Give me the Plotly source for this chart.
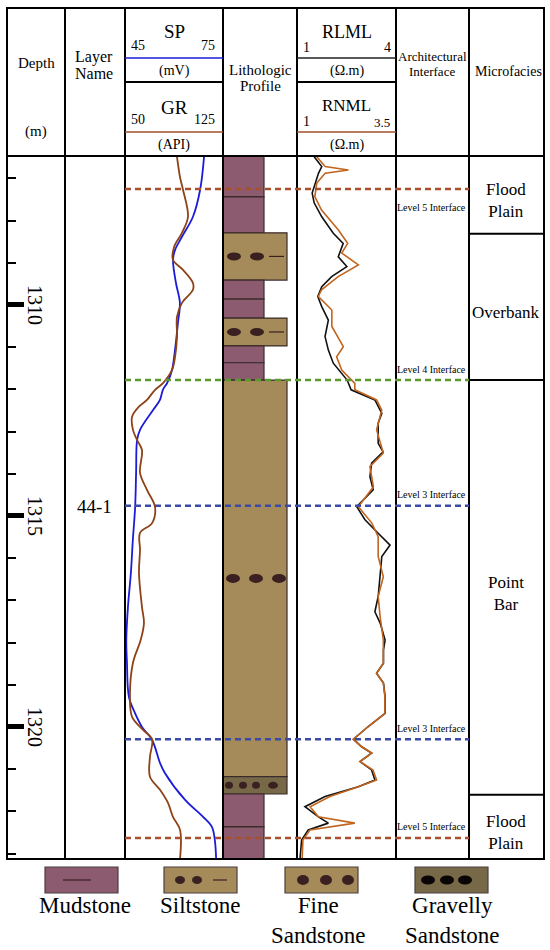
import plotly.graph_objects as go

W, H = 550, 950

# ---------------- data ----------------
DEPTH_TOP = 1306.47
DEPTH_BOT = 1323.13
depth_labels = [1310, 1315, 1320]
depth_minor = list(range(1307, 1324))

sp_depth = [1306.49, 1307.27, 1307.91, 1308.39, 1308.70, 1308.93, 1309.48, 1309.95, 1310.43, 1311.07,
            1311.54, 1311.85, 1312.01, 1312.25, 1312.49, 1312.96, 1313.20, 1313.98, 1314.79, 1315.57,
            1316.35, 1317.16, 1317.94, 1318.48, 1319.29, 1319.68, 1320.00, 1320.31, 1320.85, 1321.09,
            1321.73, 1322.13, 1322.37, 1322.68, 1323.13]
sp_mv = [69.2, 68.0, 65.8, 62.4, 60.3, 59.7, 60.6, 61.8, 61.2, 60.3,
         59.4, 57.9, 56.6, 55.7, 53.6, 49.6, 48.7, 48.4, 48.1, 47.4,
         46.8, 45.9, 45.4, 45.6, 46.2, 48.1, 50.2, 53.3, 55.7, 57.2,
         63.4, 68.9, 71.6, 72.5, 72.9]

gr_depth = [1306.49, 1306.97, 1307.27, 1307.91, 1308.29, 1308.63, 1308.93, 1309.17, 1309.48, 1309.64,
            1309.95, 1310.28, 1310.76, 1311.23, 1311.54, 1311.85, 1312.01, 1312.25, 1312.40, 1312.65,
            1312.96, 1313.20, 1313.44, 1313.98, 1314.38, 1314.79, 1315.17, 1315.40, 1315.81, 1316.35,
            1317.16, 1317.54, 1317.94, 1318.48, 1319.29, 1319.76, 1320.07, 1320.29, 1320.71, 1321.18,
            1321.49, 1321.80, 1322.13, 1322.44, 1323.13]
gr_api = [89.8, 92.1, 94.4, 98.2, 93.6, 87.5, 86.7, 94.4, 102.0, 102.0,
          93.6, 89.8, 89.8, 88.3, 86.0, 79.1, 73.0, 66.8, 61.0, 55.4,
          56.1, 59.2, 63.0, 61.5, 66.8, 73.0, 70.7, 61.5, 61.5, 60.7,
          63.0, 64.5, 62.0, 56.1, 53.8, 55.4, 63.8, 70.7, 69.1, 69.1,
          76.8, 82.9, 86.7, 92.1, 92.1]

rlml_depth = [1306.49, 1306.72, 1306.88, 1307.11, 1307.35, 1307.58, 1307.91, 1308.30, 1308.54, 1308.86,
              1309.09, 1309.33, 1309.57, 1309.80, 1310.04, 1310.36, 1310.75, 1311.07, 1311.38, 1311.78,
              1312.01, 1312.25, 1312.57, 1312.80, 1313.28, 1313.48, 1313.75, 1314.07, 1314.38, 1314.78,
              1315.09, 1315.41, 1315.69, 1315.96, 1316.44, 1316.91, 1317.27, 1317.54, 1317.94, 1318.18,
              1318.49, 1318.73, 1318.96, 1319.28, 1319.68, 1319.99, 1320.29, 1320.47, 1320.62, 1320.82,
              1321.02, 1321.26, 1321.42, 1321.65, 1321.89, 1322.13, 1322.28, 1322.44, 1322.68, 1323.13]
rlml_ohmm = [1.52, 1.75, 1.65, 1.55, 1.46, 1.52, 1.75, 2.10, 2.40, 2.25,
             2.51, 2.05, 1.75, 1.63, 1.75, 1.95, 1.85, 1.95, 2.10, 2.52,
             2.64, 3.36, 3.57, 3.46, 3.46, 3.61, 3.26, 3.21, 3.31, 2.81,
             3.06, 3.46, 3.82, 3.57, 3.52, 3.46, 3.36, 3.52, 3.67, 3.62,
             3.62, 3.41, 3.62, 3.67, 3.67, 3.16, 2.71, 2.96, 3.26, 2.91,
             3.26, 3.36, 2.86, 1.85, 1.24, 1.65, 1.95, 1.34, 1.14, 1.09]

rnml_depth = [1306.49, 1306.72, 1306.80, 1306.88, 1307.11, 1307.43, 1307.75, 1308.22, 1308.54, 1308.77,
              1309.05, 1309.33, 1309.64, 1309.80, 1310.12, 1310.51, 1310.99, 1311.23, 1311.54, 1311.86,
              1312.01, 1312.25, 1312.49, 1312.96, 1313.51, 1313.83, 1314.31, 1314.78, 1315.17, 1315.49,
              1315.96, 1316.44, 1316.91, 1317.39, 1317.94, 1318.18, 1318.49, 1318.73, 1318.96, 1319.28,
              1319.68, 1319.99, 1320.29, 1320.47, 1320.62, 1320.82, 1321.02, 1321.26, 1321.42, 1321.65,
              1321.89, 1322.13, 1322.28, 1322.44, 1322.68, 1323.13]
rnml_ohmm = [1.50, 1.71, 2.30, 1.71, 1.50, 1.45, 1.62, 2.04, 2.28, 2.13,
             2.55, 2.04, 1.62, 1.54, 1.88, 1.88, 2.17, 2.00, 2.13, 2.46,
             2.46, 3.01, 3.14, 3.01, 3.18, 2.84, 2.93, 2.55, 2.89, 3.05,
             3.05, 3.18, 3.05, 3.10, 3.18, 3.18, 3.18, 3.01, 3.18, 3.22,
             3.22, 2.80, 2.42, 2.63, 2.89, 2.59, 2.92, 3.01, 2.55, 1.83,
             1.33, 1.54, 2.46, 1.33, 1.15, 1.13]

lith_top = [1306.47, 1307.44, 1308.29, 1309.41, 1309.86, 1310.31, 1310.97, 1311.37, 1311.78, 1321.18, 1321.59, 1322.37]
lith_bot = [1307.44, 1308.29, 1309.41, 1309.86, 1310.31, 1310.97, 1311.37, 1311.78, 1321.18, 1321.59, 1322.37, 1323.13]
lith_type = ["Mudstone", "Mudstone", "Siltstone", "Mudstone", "Mudstone", "Siltstone", "Mudstone", "Mudstone",
             "Fine Sandstone", "Gravelly Sandstone", "Mudstone", "Mudstone"]

interface_depth = [1307.25, 1311.78, 1314.76, 1320.29, 1322.63]
interface_label = ["Level 5 Interface", "Level 4 Interface", "Level 3 Interface", "Level 3 Interface", "Level 5 Interface"]
interface_color = ["#a8502c", "#5c9a30", "#3a4aa6", "#3a4aa6", "#a8502c"]
interface_label_below = [True, False, False, False, False]

facies_top = [1306.47, 1308.31, 1311.78, 1321.61]
facies_bot = [1308.31, 1311.78, 1321.61, 1323.13]
facies_name = ["Flood<br>Plain", "Overbank", "Point<br>Bar", "Flood<br>Plain"]

layer_name = "44-1"
layer_depth = 1314.78

legend_names = ["Mudstone", "Siltstone", "Fine<br>Sandstone", "Gravelly<br>Sandstone"]

# ---------------- styling ----------------
FONT = "Liberation Serif"
C_MUD = "#8c5b6f"
C_SAND = "#a68b5a"
C_GRAV = "#776848"
C_DOT = "#3a2020"
C_EDGE = "#3a2a2a"
C_SP = "#1c1cd8"
C_GR = "#8e4218"
C_RL = "#111111"
C_RN = "#c2651f"


def px(x):
    return x / W


def py(y):
    return 1 - y / H


TOP_PX, BOT_PX = 156, 859
ydom = [py(BOT_PX), py(TOP_PX)]

fig = go.Figure()

fig.add_trace(go.Scatter(x=sp_mv, y=sp_depth, xaxis="x", yaxis="y", mode="lines",
                         line=dict(color=C_SP, width=1.8, shape="spline", smoothing=1.0), hoverinfo="skip"))
fig.add_trace(go.Scatter(x=gr_api, y=gr_depth, xaxis="x2", yaxis="y", mode="lines",
                         line=dict(color=C_GR, width=1.8, shape="spline", smoothing=1.0), hoverinfo="skip"))
fig.add_trace(go.Scatter(x=rlml_ohmm, y=rlml_depth, xaxis="x3", yaxis="y", mode="lines",
                         line=dict(color=C_RL, width=1.6), hoverinfo="skip"))
fig.add_trace(go.Scatter(x=rnml_ohmm, y=rnml_depth, xaxis="x4", yaxis="y", mode="lines",
                         line=dict(color=C_RN, width=1.6), hoverinfo="skip"))

hidden = dict(showgrid=False, zeroline=False, showticklabels=False, showline=False, ticks="")
fig.update_layout(
    width=W, height=H, margin=dict(l=0, r=0, t=0, b=0),
    paper_bgcolor="white", plot_bgcolor="rgba(0,0,0,0)", showlegend=False,
    xaxis=dict(domain=[px(125), px(223)], range=[45, 75], anchor="y", **hidden),
    xaxis2=dict(domain=[px(125), px(223)], range=[50, 125], overlaying="x", anchor="y", **hidden),
    xaxis3=dict(domain=[px(297), px(396)], range=[1, 4], anchor="y", **hidden),
    xaxis4=dict(domain=[px(297), px(396)], range=[1, 3.5], overlaying="x3", anchor="y", **hidden),
    yaxis=dict(domain=ydom, range=[DEPTH_BOT, DEPTH_TOP], anchor="free", position=px(7),
               showgrid=False, zeroline=False, showline=False, showticklabels=False,
               tickmode="array", tickvals=depth_labels, ticks="inside", ticklen=16, tickwidth=5,
               tickcolor="black",
               minor=dict(tickmode="array", tickvals=depth_minor, ticks="inside", ticklen=8,
                          tickwidth=2, tickcolor="black")),
)

shapes = []
ann = []


def line_px(x0, y0, x1, y1, color="black", width=2, dash=None):
    d = dict(type="line", xref="paper", yref="paper", x0=px(x0), y0=py(y0), x1=px(x1), y1=py(y1),
             line=dict(color=color, width=width))
    if dash:
        d["line"]["dash"] = dash
    shapes.append(d)


def text_px(x, y, text, size, xanchor="center", color="black", angle=0):
    ann.append(dict(xref="paper", yref="paper", x=px(x), y=py(y), text=text, showarrow=False,
                    xanchor=xanchor, yanchor="middle", textangle=angle,
                    font=dict(family=FONT, size=size, color=color)))


# ---- lithology column ----
LITH_L = 223
lith_style = {
    "Mudstone": (C_MUD, 264),
    "Siltstone": (C_SAND, 287),
    "Fine Sandstone": (C_SAND, 287),
    "Gravelly Sandstone": (C_GRAV, 287),
}
for t, b, k in zip(lith_top, lith_bot, lith_type):
    col, right = lith_style[k]
    shapes.append(dict(type="rect", xref="paper", yref="y", x0=px(LITH_L), x1=px(right), y0=t, y1=b,
                       fillcolor=col, line=dict(color=C_EDGE, width=1.2), layer="below"))
    mid = (t + b) / 2
    if k == "Siltstone":
        for cx in (234, 257):
            shapes.append(dict(type="circle", xref="paper", yref="y", ysizemode="pixel", yanchor=mid,
                               x0=px(cx - 7), x1=px(cx + 7), y0=-4, y1=4,
                               fillcolor=C_DOT, line=dict(width=0)))
        shapes.append(dict(type="line", xref="paper", yref="y", x0=px(269), x1=px(284), y0=mid, y1=mid,
                           line=dict(color=C_DOT, width=1.2)))
    elif k == "Fine Sandstone":
        for cx in (233, 256, 279):
            shapes.append(dict(type="circle", xref="paper", yref="y", ysizemode="pixel", yanchor=mid,
                               x0=px(cx - 7), x1=px(cx + 7), y0=-4.5, y1=4.5,
                               fillcolor=C_DOT, line=dict(width=0)))
    elif k == "Gravelly Sandstone":
        for cx, r in ((229, 4), (243, 4), (256, 4), (273, 5)):
            shapes.append(dict(type="circle", xref="paper", yref="y", ysizemode="pixel", yanchor=mid,
                               x0=px(cx - r), x1=px(cx + r), y0=-3.5, y1=3.5,
                               fillcolor=C_DOT, line=dict(width=0)))

# ---- table grid ----
L, R, T, B = 7, 544, 8, 859
shapes.append(dict(type="rect", xref="paper", yref="paper", x0=px(L), x1=px(R), y0=py(B), y1=py(T),
                   line=dict(color="black", width=2)))
for xv in (65, 125, 223, 297, 396, 469):
    line_px(xv, T, xv, B)
line_px(L, TOP_PX, R, TOP_PX)
line_px(125, 82, 223, 82)
line_px(297, 82, 396, 82)
line_px(125, 58, 223, 58, color=C_SP, width=1.6)
line_px(125, 132, 223, 132, color="#a0522d", width=1.6)
line_px(297, 58, 396, 58, color="#222222", width=1.6)
line_px(297, 132, 396, 132, color="#a0522d", width=1.6)

# microfacies dividers
for d in facies_top[1:]:
    shapes.append(dict(type="line", xref="paper", yref="y", x0=px(469), x1=px(R), y0=d, y1=d,
                       line=dict(color="black", width=2)))
for t, b, name in zip(facies_top, facies_bot, facies_name):
    ann.append(dict(xref="paper", yref="y", x=px(506), y=(t + b) / 2, text=name, showarrow=False,
                    xanchor="center", yanchor="middle", yshift=-6,
                    font=dict(family=FONT, size=17, color="black")))

# interfaces
for d, lab, col, below in zip(interface_depth, interface_label, interface_color, interface_label_below):
    shapes.append(dict(type="line", xref="paper", yref="y", x0=px(125), x1=px(469), y0=d, y1=d,
                       line=dict(color=col, width=2.5, dash="6px,4px")))
    ann.append(dict(xref="paper", yref="y", x=px(468), y=d, text=lab, showarrow=False,
                    xanchor="right", yanchor="middle", yshift=(-19 if below else 11),
                    font=dict(family=FONT, size=10, color="black")))

# depth labels
for d in depth_labels:
    ann.append(dict(xref="paper", yref="y", x=px(35), y=d, text=str(d), showarrow=False,
                    xanchor="center", yanchor="middle", textangle=90,
                    font=dict(family=FONT, size=20, color="black")))

# layer name
ann.append(dict(xref="paper", yref="y", x=px(94), y=layer_depth, text=layer_name, showarrow=False,
                xanchor="center", yanchor="middle", font=dict(family=FONT, size=19, color="black")))

# ---- header texts ----
text_px(36, 63, "Depth", 15)
text_px(36, 132, "(m)", 15)
text_px(94, 57, "Layer", 16)
text_px(94, 73, "Name", 16)
text_px(174, 32, "SP", 19)
text_px(138, 46, "45", 14)
text_px(208, 46, "75", 14)
text_px(174, 71, "(mV)", 14)
text_px(174, 107, "GR", 19)
text_px(138, 120, "50", 14)
text_px(204, 120, "125", 14)
text_px(174, 145, "(API)", 14)
text_px(260, 70, "Lithologic", 15)
text_px(260, 86, "Profile", 15)
text_px(347, 32, "RLML", 18)
text_px(306, 47, "1", 14)
text_px(387, 47, "4", 14)
text_px(347, 71, "(Ω.m)", 14)
text_px(346, 106, "RNML", 17)
text_px(306, 121, "1", 14)
text_px(382, 122, "3.5", 13)
text_px(347, 145, "(Ω.m)", 14)
text_px(432, 56, "Architectural", 13)
text_px(432, 72, "Interface", 13)
text_px(508, 72, "Microfacies", 14)

# ---- bottom legend ----
leg_boxes = [(45, 118, C_MUD), (164, 237, C_SAND), (285, 358, C_SAND), (415, 488, C_GRAV)]
LY0, LY1, LYC = 867, 893, 880
for (x0, x1, col) in leg_boxes:
    shapes.append(dict(type="rect", xref="paper", yref="paper", x0=px(x0), x1=px(x1), y0=py(LY1), y1=py(LY0),
                       fillcolor=col, line=dict(color="#4a4040", width=1.2)))
line_px(63, LYC, 91, LYC, color="#3a2020", width=1.2)
for cx in (180, 197):
    shapes.append(dict(type="circle", xref="paper", yref="paper", x0=px(cx - 5), x1=px(cx + 5),
                       y0=py(LYC + 4), y1=py(LYC - 4), fillcolor=C_DOT, line=dict(width=0)))
line_px(213, LYC, 227, LYC, color="#3a2020", width=1.2)
for cx in (303, 326, 348):
    shapes.append(dict(type="circle", xref="paper", yref="paper", x0=px(cx - 6), x1=px(cx + 6),
                       y0=py(LYC + 5), y1=py(LYC - 5), fillcolor=C_DOT, line=dict(width=0)))
for cx in (428, 447, 465):
    shapes.append(dict(type="circle", xref="paper", yref="paper", x0=px(cx - 7), x1=px(cx + 7),
                       y0=py(LYC + 4.5), y1=py(LYC - 4.5), fillcolor="#0a0505", line=dict(width=0)))

legend_x = [85, 200, 318, 452]
for x, name in zip(legend_x, legend_names):
    ann.append(dict(xref="paper", yref="paper", x=px(x), y=py(891), text=name, showarrow=False,
                    xanchor="center", yanchor="top",
                    font=dict(family=FONT, size=23, color="black")))

fig.update_layout(shapes=shapes, annotations=ann)
fig.write_html("out.html", config={"displayModeBar": False},
               post_script="document.body.style.margin='0';document.body.style.overflow='hidden';")
